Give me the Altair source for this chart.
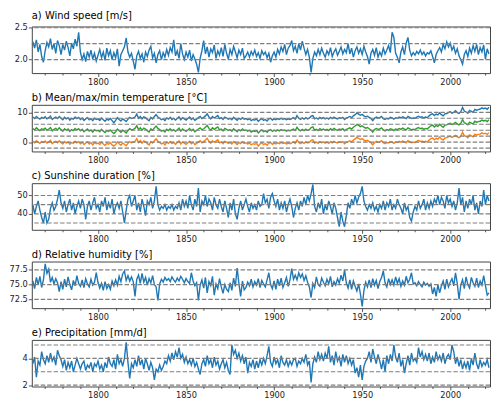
import altair as alt
import pandas as pd

years = list(range(1763, 2023))

# a) wind speed [m/s], 1763..2022
wind = [
    2.28, 2.18, 2.31, 2.12, 2.24, 2.05, 1.96,
    2.14, 2.27, 2.20, 2.33, 2.16, 2.25, 2.10, 2.30, 2.22, 2.08,
    2.24, 2.15, 2.29, 2.19, 2.06, 2.26, 2.17, 2.32, 2.21, 2.43,
    2.12, 2.00, 2.09, 1.97, 2.13, 2.04, 2.15, 2.01, 2.10, 1.98,
    2.07, 2.16, 2.03, 2.12, 1.99, 2.18, 2.06, 2.14, 2.00, 2.11,
    2.03, 2.17, 1.90, 2.08, 2.14, 2.20, 2.34, 2.12, 2.04, 2.10,
    1.98, 1.85, 2.06, 2.13, 2.02, 2.09, 1.96, 2.12, 2.05, 2.15,
    2.21, 2.03, 2.10, 1.95, 2.08, 2.14, 2.00, 2.11, 2.04, 2.16,
    2.07, 2.19, 2.12, 2.31, 2.06, 2.14, 2.02, 2.25, 2.09, 2.00,
    2.12, 2.04, 2.15, 1.98, 2.08, 2.01, 1.93, 1.80, 2.02, 2.14,
    2.30, 2.09, 2.20, 2.04, 2.17, 2.11, 2.23, 2.02, 2.14, 2.07,
    2.19, 2.05, 2.24, 2.10, 2.01, 2.16, 2.08, 2.21, 2.12, 2.03,
    2.15, 2.08, 2.18, 2.02, 2.06, 2.12, 2.04, 2.13, 2.07, 2.15,
    2.05, 2.11, 2.02, 2.14, 2.08, 2.12, 2.03, 2.10, 1.96, 2.06,
    2.12, 2.04, 2.16, 2.09, 2.20, 2.13, 2.24, 2.08, 2.18, 2.22,
    2.30, 2.14, 2.21, 2.10, 2.25, 2.15, 2.29, 2.18, 2.08, 2.16,
    2.04, 1.80, 2.02, 2.12, 2.06, 2.16, 2.08, 2.18, 2.10, 2.04,
    2.14, 2.08, 2.19, 2.05, 2.12, 2.17, 2.07, 2.13, 2.20, 2.09,
    2.16, 2.11, 2.25, 2.09, 2.18, 2.04, 2.14, 2.20, 2.10, 2.17,
    2.08, 2.21, 2.12, 2.05, 1.93, 2.10, 2.16, 2.07, 2.19, 2.04,
    2.12, 2.06, 2.18, 2.09, 2.15, 2.22, 2.11, 2.43, 2.35, 2.10,
    2.04, 1.95, 2.12, 2.20, 2.08, 2.26, 2.35, 2.15, 2.06, 2.11,
    2.07, 2.13, 2.09, 2.15, 2.08, 2.12, 2.06, 2.11, 2.09, 2.14,
    2.05, 1.95, 2.08, 2.14, 2.19, 2.12, 2.24, 2.17, 2.28, 2.20,
    2.26, 2.15, 2.21, 2.10, 2.17, 2.06, 2.00, 1.93, 2.08, 2.14,
    2.05, 2.18, 2.10, 2.22, 2.13, 2.24, 2.08, 2.19, 2.12, 2.23,
    2.01, 2.17, 2.09,
]

# b) temperature [°C]: upper (blue), middle (green), lower (orange)
temp_max = [
    8.4, 7.9, 8.6, 8.1, 7.7, 8.3, 8.0,
    8.5, 7.8, 8.2, 8.7, 7.6, 8.1, 8.4, 7.9, 8.6, 8.0,
    7.5, 8.3, 7.8, 8.2, 7.4, 8.0, 7.7, 8.4, 7.9, 8.3,
    7.6, 8.1, 7.3, 7.8, 8.2, 7.5, 7.9, 7.2, 8.0, 7.6,
    7.8, 7.3, 8.1, 7.5, 7.0, 7.7, 7.4, 7.9, 7.2, 6.5,
    7.3, 8.2, 7.6, 7.1, 7.8, 7.4, 6.9, 7.7, 8.3, 7.9,
    8.1, 8.4, 9.4, 8.0, 8.6, 7.8, 8.5, 8.2, 7.6, 7.2,
    8.3, 7.8, 8.6, 9.2, 8.4, 8.0, 7.5, 7.8, 7.2, 8.1,
    7.7, 8.3, 7.6, 8.0, 7.4, 7.9, 8.5, 7.5, 8.2, 7.8,
    7.4, 7.9, 8.4, 7.6, 8.1, 7.3, 7.7, 8.2, 8.6, 7.9,
    8.3, 8.8, 9.5, 8.4, 7.8, 8.6, 8.1, 8.5, 8.9, 7.9,
    8.2, 7.6, 8.4, 8.1, 7.7, 8.0, 7.5, 8.3, 7.8, 7.3,
    8.0, 7.6, 8.2, 7.7, 7.9, 7.5, 7.8, 7.2, 7.6, 7.4,
    7.7, 7.0, 7.5, 7.9, 7.3, 7.6, 7.1, 7.8, 8.0, 7.4,
    7.8, 7.5, 7.9, 7.6, 8.0, 7.7, 7.9, 7.5, 7.8, 7.6,
    7.9, 8.2, 7.7, 8.9, 8.0, 7.6, 8.1, 7.7, 8.2, 7.8,
    8.0, 8.7, 8.9, 7.8, 8.1, 7.7, 8.3, 7.9, 8.2, 7.8,
    8.1, 7.7, 8.3, 7.9, 8.4, 8.0, 7.8, 8.2, 8.0, 8.3,
    7.6, 8.1, 8.3, 8.6, 8.2, 8.8, 9.2, 9.8, 9.4, 9.0,
    9.3, 8.8, 8.5, 8.7, 8.3, 7.9, 7.2, 8.0, 8.4, 8.1,
    8.2, 8.6, 7.9, 7.6, 8.0, 7.8, 8.3, 8.1, 7.7, 8.2,
    8.0, 8.4, 8.1, 8.5, 8.2, 7.9, 8.6, 8.3, 7.9, 8.1,
    8.0, 8.4, 8.7, 8.3, 8.5, 8.1, 8.4, 8.2, 8.8, 9.3,
    9.5, 8.9, 9.4, 9.1, 9.8, 9.2, 8.8, 9.5, 9.6, 9.9,
    10.2, 9.7, 10.0, 10.5, 9.9, 9.6, 10.2, 11.6, 10.4, 10.1,
    9.7, 10.6, 10.3, 10.0, 11.0, 10.7, 10.9, 11.1, 11.5, 11.2,
    11.4, 11.0, 11.7,
]
temp_mean = [
    4.6, 4.1, 4.8, 4.3, 3.9, 4.5, 4.2,
    4.7, 4.0, 4.4, 4.9, 3.8, 4.3, 4.6, 4.1, 4.8, 4.2,
    3.7, 4.5, 4.0, 4.4, 3.6, 4.2, 3.9, 4.6, 4.1, 4.5,
    3.8, 4.3, 3.5, 4.0, 4.4, 3.7, 4.1, 3.4, 4.2, 3.8,
    4.0, 3.5, 4.3, 3.7, 3.2, 3.9, 3.6, 4.1, 3.4, 2.9,
    3.5, 4.4, 3.8, 3.3, 4.0, 3.6, 3.1, 3.9, 4.5, 4.1,
    4.3, 4.6, 5.5, 4.2, 4.8, 4.0, 4.7, 4.4, 3.8, 3.4,
    4.5, 4.0, 4.8, 5.4, 4.6, 4.2, 3.7, 4.0, 3.4, 4.3,
    3.9, 4.5, 3.8, 4.2, 3.6, 4.1, 4.7, 3.7, 4.4, 4.0,
    3.6, 4.1, 4.6, 3.8, 4.3, 3.5, 3.9, 4.4, 4.8, 4.1,
    4.5, 5.0, 5.6, 4.6, 4.0, 4.8, 4.3, 4.7, 5.1, 4.1,
    4.4, 3.8, 4.6, 4.3, 3.9, 4.2, 3.7, 4.5, 4.0, 3.5,
    4.2, 3.8, 4.4, 3.9, 4.1, 3.7, 4.0, 3.4, 3.8, 3.6,
    3.9, 3.1, 3.7, 4.1, 3.5, 3.8, 3.3, 4.0, 4.2, 3.6,
    4.0, 3.7, 4.1, 3.8, 4.2, 3.9, 4.1, 3.7, 4.0, 3.8,
    4.1, 4.4, 3.9, 5.0, 4.2, 3.8, 4.3, 3.9, 4.4, 4.0,
    4.2, 4.9, 5.1, 4.0, 4.3, 3.9, 4.5, 4.1, 4.4, 4.0,
    4.3, 3.9, 4.5, 4.1, 4.6, 4.2, 4.0, 4.4, 4.2, 4.5,
    3.8, 4.3, 4.5, 4.8, 4.4, 5.0, 5.4, 5.9, 5.6, 5.2,
    5.5, 5.0, 4.7, 4.9, 4.5, 4.1, 3.4, 4.2, 4.6, 4.3,
    4.4, 4.8, 4.1, 3.8, 4.2, 4.0, 4.5, 4.3, 3.9, 4.4,
    4.2, 4.6, 4.3, 4.7, 4.4, 4.1, 4.8, 4.5, 4.1, 4.3,
    4.2, 4.6, 4.9, 4.5, 4.7, 4.3, 4.6, 4.4, 5.0, 5.5,
    5.7, 5.1, 5.6, 5.3, 6.0, 5.4, 5.0, 5.7, 5.8, 6.1,
    6.3, 5.9, 6.2, 6.6, 6.1, 5.8, 6.3, 7.6, 6.5, 6.2,
    5.8, 6.7, 6.4, 6.1, 7.0, 6.7, 6.9, 7.0, 7.4, 7.1,
    7.3, 6.9, 7.5,
]
temp_min = [
    0.3, -0.2, 0.5, 0.0, -0.4, 0.2, -0.1,
    0.4, -0.3, 0.1, 0.6, -0.5, 0.0, 0.3, -0.2, 0.5, -0.1,
    -0.6, 0.2, -0.3, 0.1, -0.7, -0.1, -0.4, 0.3, -0.2, 0.2,
    -0.5, 0.0, -0.8, -0.3, 0.1, -0.6, -0.2, -0.9, -0.1, -0.5,
    -0.3, -0.8, 0.0, -0.6, -1.1, -0.4, -0.7, -0.2, -0.9, -1.3,
    -0.8, 0.1, -0.5, -1.0, -0.3, -0.7, -1.2, -0.4, 0.2, -0.2,
    0.0, 0.3, 1.2, -0.1, 0.5, -0.3, 0.4, 0.1, -0.5, -0.9,
    0.2, -0.3, 0.5, 1.1, 0.3, -0.1, -0.6, -0.3, -0.9, 0.0,
    -0.4, 0.2, -0.5, -0.1, -0.7, -0.2, 0.4, -0.6, 0.1, -0.3,
    -0.7, -0.2, 0.3, -0.5, 0.0, -0.8, -0.4, 0.1, 0.5, -0.2,
    0.2, 0.7, 1.3, 0.3, -0.3, 0.5, 0.0, 0.4, 0.8, -0.2,
    0.1, -0.5, 0.3, 0.0, -0.4, -0.1, -0.6, 0.2, -0.3, -0.8,
    -0.1, -0.5, 0.1, -0.4, -0.2, -0.6, -0.3, -0.9, -0.5, -0.7,
    -0.4, -1.3, -0.6, -0.2, -0.8, -0.5, -1.0, -0.3, -0.1, -0.7,
    -0.3, -0.6, -0.2, -0.5, -0.1, -0.4, -0.2, -0.6, -0.3, -0.5,
    -0.2, 0.1, -0.4, 0.7, -0.1, -0.5, 0.0, -0.4, 0.1, -0.3,
    -0.1, 0.6, 0.8, -0.3, 0.0, -0.4, 0.2, -0.2, 0.1, -0.3,
    0.0, -0.4, 0.2, -0.2, 0.3, -0.1, -0.3, 0.1, -0.1, 0.2,
    -0.5, 0.0, 0.2, 0.5, 0.1, 0.7, 1.1, 1.6, 1.3, 0.9,
    1.2, 0.7, 0.4, 0.6, 0.2, -0.2, -0.9, -0.1, 0.3, 0.0,
    0.1, 0.5, -0.2, -0.5, -0.1, -0.3, 0.2, 0.0, -0.4, 0.1,
    -0.1, 0.3, 0.0, 0.4, 0.1, -0.2, 0.5, 0.2, -0.2, 0.0,
    -0.1, 0.3, 0.6, 0.2, 0.4, 0.0, 0.3, 0.1, 0.7, 1.2,
    1.4, 0.8, 1.3, 1.0, 1.7, 1.1, 0.7, 1.4, 1.5, 1.8,
    2.0, 1.6, 1.9, 2.3, 1.8, 1.5, 2.0, 3.3, 2.2, 1.9,
    1.5, 2.4, 2.1, 1.8, 2.7, 2.4, 2.6, 2.7, 3.1, 2.8,
    3.0, 2.6, 3.2,
]

# c) sunshine duration [%]
sunshine = [
    45, 40, 44, 47, 42, 38, 35,
    41, 35, 37, 43, 46, 42, 44, 48, 53, 46,
    43, 47, 41, 45, 48, 42, 46, 40, 44, 47,
    43, 48, 45, 37, 44, 47, 42, 46, 49, 43,
    45, 41, 47, 44, 49, 42, 46, 43, 48, 40,
    44, 46, 43, 47, 41, 35, 42, 48, 50, 44,
    47, 50, 42, 46, 41, 48, 44, 39, 47, 45,
    49, 43, 47, 55, 45, 42, 44, 43, 45, 42,
    44, 43, 45, 42, 44, 43, 46, 42, 48, 44,
    47, 43, 50, 45, 42, 48, 44, 54, 41, 47,
    45, 50, 44, 48, 46, 42, 49, 45, 43, 48,
    44, 41, 47, 43, 38, 46, 42, 48, 40, 37,
    43, 47, 42, 45, 48, 44, 41, 46, 43, 45,
    42, 47, 44, 45, 51, 46, 48, 43, 49, 51,
    47, 44, 48, 42, 46, 43, 47, 41, 45, 48,
    44, 38, 43, 46, 42, 47, 44, 49, 45, 50,
    47, 51, 56, 44, 41, 46, 43, 48, 40, 45,
    42, 47, 44, 40, 46, 43, 38, 33, 41, 36,
    33, 39, 46, 43, 48, 45, 50, 46, 49, 51,
    55, 47, 44, 42, 45, 43, 46, 42, 44, 41,
    45, 43, 47, 42, 46, 44, 48, 42, 45, 43,
    48, 45, 43, 40, 46, 42, 44, 38, 36, 41,
    44, 42, 47, 43, 45, 48, 42, 46, 43, 47,
    44, 48, 46, 50, 45, 49, 47, 43, 50, 46,
    48, 44, 47, 42, 46, 54, 45, 49, 41, 47,
    43, 48, 45, 50, 42, 46, 40, 47, 44, 53,
    45, 50, 47,
]

# d) relative humidity [%]
humidity = [
    75.6, 74.3, 76.2, 75.0, 76.4, 74.5, 75.8,
    78.5, 76.9, 77.6, 75.4, 76.2, 75.1, 76.0, 75.3, 73.8, 75.5,
    74.2, 75.9, 74.6, 76.3, 75.0, 74.1, 75.7, 74.8, 76.5, 75.2,
    74.7, 75.8, 74.5, 76.0, 75.1, 74.6, 75.9, 74.9, 75.4, 77.0,
    75.3, 74.4, 75.2, 74.0, 75.5, 74.3, 75.0, 74.2, 75.6, 74.8,
    75.8, 74.9, 76.4, 75.5, 76.8, 77.3, 75.7, 76.5, 75.6, 76.3,
    75.5, 73.0, 75.9, 76.6, 75.2, 76.9, 75.4, 76.2, 74.9, 76.0,
    75.3, 76.5, 75.0, 74.6, 72.3, 75.1, 75.9, 75.4, 76.2, 75.7,
    76.0, 75.5, 76.3, 75.8, 75.4, 76.1, 75.6, 76.4, 75.9, 75.3,
    76.0, 75.5, 75.2, 77.0, 75.6, 74.8, 75.3, 72.3, 74.9, 75.8,
    74.4, 76.2, 73.6, 75.5, 74.8, 76.4, 73.2, 75.1, 74.3, 76.0,
    74.6, 73.5, 75.0, 74.2, 73.8, 75.3, 74.0, 76.1, 74.7, 77.8,
    75.2, 73.0, 75.6, 74.1, 74.5, 75.4, 74.8, 75.9, 74.6, 75.5,
    74.9, 76.0, 74.5, 75.7, 75.1, 74.6, 75.8, 77.0, 75.0, 74.3,
    75.6, 74.2, 75.9, 74.8, 76.1, 74.5, 75.3, 76.2, 74.7, 75.8,
    77.7, 75.9, 76.6, 75.8, 77.0, 76.2, 76.8, 75.7, 76.5, 75.4,
    74.6, 72.8, 75.2, 74.5, 76.3, 75.0, 74.7, 76.1, 75.4, 74.8,
    75.9, 75.1, 76.4, 74.6, 75.5, 74.9, 76.0, 75.2, 76.6, 75.6,
    77.5, 75.3, 74.4, 75.8, 74.2, 75.6, 74.7, 73.9, 75.1, 73.4,
    71.3, 74.0, 75.4, 74.6, 75.8, 74.5, 76.0, 74.9, 75.7, 74.3,
    75.5, 76.2, 77.3, 75.3, 74.6, 76.0, 75.0, 75.8, 74.9, 76.3,
    75.2, 76.0, 74.7, 75.6, 74.9, 76.4, 75.3, 75.9, 77.0, 75.1,
    75.3, 74.8, 75.5, 75.0, 74.6, 75.4, 74.9, 75.2, 74.7, 75.1,
    73.4, 74.5, 73.0, 75.0, 73.6, 74.8, 75.6, 74.2, 75.9, 74.6,
    75.4, 76.0, 74.8, 77.0, 75.2, 72.5, 74.9, 75.8, 74.3, 76.3,
    75.0, 74.4, 76.2, 75.3, 74.7, 76.1, 74.5, 75.6, 74.9, 76.5,
    74.8, 73.2, 73.6,
]

# e) precipitation [mm/d]
precip = [
    3.6, 4.1, 2.6, 3.8, 3.5, 4.5, 3.9,
    3.6, 4.2, 3.7, 4.4, 3.8, 4.1, 3.5, 4.6, 4.2, 3.9,
    3.4, 3.9, 3.1, 3.7, 3.3, 3.8, 3.0, 3.5, 4.0, 3.6,
    3.2, 3.6, 3.8, 3.1, 3.5, 3.3, 3.7, 3.0, 3.6, 3.4,
    3.8, 3.2, 3.5, 3.0, 3.7, 3.3, 4.1, 3.6, 3.4, 3.9,
    3.2, 4.3, 3.6, 3.9, 3.4, 4.0, 5.2, 3.7, 2.5, 3.6,
    3.3, 3.9, 3.4, 4.2, 3.5, 3.9, 3.2, 4.0, 3.6, 3.1,
    3.7, 3.3, 2.4, 3.2, 3.0, 3.5, 3.1, 3.4, 3.8, 3.6,
    4.2, 3.8, 4.4, 3.9, 4.5, 4.1, 4.8, 4.0, 4.3, 3.7,
    4.1, 3.6, 3.9, 3.5, 4.0, 3.4, 3.7, 3.2, 2.8, 3.6,
    3.9, 3.4, 4.2, 3.6, 3.9, 3.3, 4.1, 3.5, 3.8, 3.2,
    3.6, 3.9, 3.3, 3.7, 3.1, 2.8, 5.0, 4.3, 4.6, 4.0,
    4.4, 3.8, 4.2, 3.6, 4.1, 2.9, 3.7, 3.4, 3.9, 3.2,
    3.8, 3.3, 3.9, 3.5, 4.0, 3.6, 4.2, 4.9, 3.7, 3.4,
    4.1, 3.6, 3.9, 3.3, 4.2, 3.7, 3.5, 3.9, 3.4, 3.8,
    3.5, 3.9, 4.0, 3.4, 3.8, 3.6, 4.0, 3.7, 4.3, 3.5,
    3.8, 2.2, 3.6, 4.1, 3.7, 4.5, 3.9, 4.3, 3.8, 4.4,
    4.0, 4.9, 3.7, 4.2, 3.5, 4.5, 3.8, 4.1, 3.4, 4.3,
    3.7, 4.2, 3.6, 4.0, 3.5, 3.9, 2.9, 3.3, 2.6, 3.5,
    2.4, 3.4, 3.8, 4.0, 4.5, 3.7, 4.7, 4.1, 3.6, 4.3,
    3.8, 3.2, 3.9, 3.0, 4.2, 3.6, 4.3, 3.8, 5.0, 4.1,
    3.7, 4.4, 3.4, 3.9, 2.9, 3.6, 4.2, 3.5, 4.4, 3.8,
    4.0, 3.7, 4.8, 4.1, 4.5, 3.9, 4.3, 3.8, 4.4, 3.6,
    4.1, 3.7, 4.5, 3.9, 4.2, 3.8, 4.4, 3.6, 4.1, 4.3,
    3.9, 5.0, 4.5, 3.6, 4.1, 3.4, 3.9, 3.2, 3.7, 3.3,
    3.8, 3.1, 4.0, 3.5, 4.4, 3.6, 3.2, 3.9, 3.4, 3.7,
    3.5, 3.9, 3.3,
]

titles = [
    "a) Wind speed [m/s]",
    "b) Mean/max/min temperature [°C]",
    "c) Sunshine duration [%]",
    "d) Relative humidity [%]",
    "e) Precipitation [mm/d]",
]
y_domains = [[1.79, 2.52], [-3.1, 12.5], [31.3, 56.7], [71.0, 78.9], [1.9, 5.38]]
y_ticks = [[2.0, 2.5], [0, 10], [40, 50], [72.5, 75.0, 77.5], [2, 4]]
y_formats = [".1f", "d", "d", ".1f", "d"]
dash_levels = [
    [2.0, 2.25, 2.5],
    [-2, 0, 2, 4, 6, 8, 10],
    [35, 40, 45, 50],
    [72.5, 75.0, 77.5],
    [2, 3, 4, 5],
]
x_ticks = list(range(1770, 2021, 10))

series_names = ["max", "mean", "min", "single"]
series_colors = ["#1f77b4", "#2ca02c", "#ff7f0e", "#1f77b4"]

frames = [
    pd.DataFrame({"year": years, "value": wind, "series": "single"}),
    pd.concat([
        pd.DataFrame({"year": years, "value": temp_max, "series": "max"}),
        pd.DataFrame({"year": years, "value": temp_mean, "series": "mean"}),
        pd.DataFrame({"year": years, "value": temp_min, "series": "min"}),
    ]),
    pd.DataFrame({"year": years, "value": sunshine, "series": "single"}),
    pd.DataFrame({"year": years, "value": humidity, "series": "single"}),
    pd.DataFrame({"year": years, "value": precip, "series": "single"}),
]

x_axis = alt.Axis(
    values=x_ticks,
    format="d",
    labelExpr="datum.value % 50 === 0 ? datum.label : ''",
    tickSize={"condition": {"test": "datum.value % 50 === 0", "value": 3.5}, "value": 2},
    labelPadding=1,
    grid=False,
    title=None,
)

panels = []
for i in range(5):
    y_axis = alt.Axis(values=y_ticks[i], format=y_formats[i], title=None, grid=False,
                      tickSize=3.5, labelPadding=1)
    y_scale = alt.Scale(domain=y_domains[i], nice=False, zero=False)
    line = alt.Chart(frames[i]).mark_line(strokeWidth=1.4, clip=True).encode(
        x=alt.X("year:Q", scale=alt.Scale(domain=[1762.4, 2022.6], nice=False, zero=False), axis=x_axis),
        y=alt.Y("value:Q", scale=y_scale, axis=y_axis),
        color=alt.Color("series:N", scale=alt.Scale(domain=series_names, range=series_colors), legend=None),
        detail="series:N",
    )
    rules = alt.Chart(pd.DataFrame({"level": dash_levels[i]})).mark_rule(
        strokeDash=[4.5, 2], color="#7f7f7f", strokeWidth=1.2
    ).encode(y=alt.Y("level:Q", scale=y_scale, axis=y_axis))
    panel = alt.layer(line, rules).properties(
        width=462,
        height=47,
        title=alt.TitleParams(titles[i], anchor="start", frame="group", fontSize=10,
                              font="DejaVu Sans", fontWeight="normal", offset=2, color="#000"),
    )
    panels.append(panel)

chart = alt.vconcat(*panels, spacing=5).properties(
    padding={"left": 0, "top": 0, "right": 0, "bottom": 0}
).configure(font="DejaVu Sans").configure_view(
    stroke="#444", strokeWidth=1
).configure_axis(
    domain=False, labelFont="DejaVu Sans", labelFontSize=8.3, labelColor="#222",
    tickColor="#333", tickWidth=0.8
)

chart.save("out.html", embed_options={"renderer": "svg", "actions": False})
